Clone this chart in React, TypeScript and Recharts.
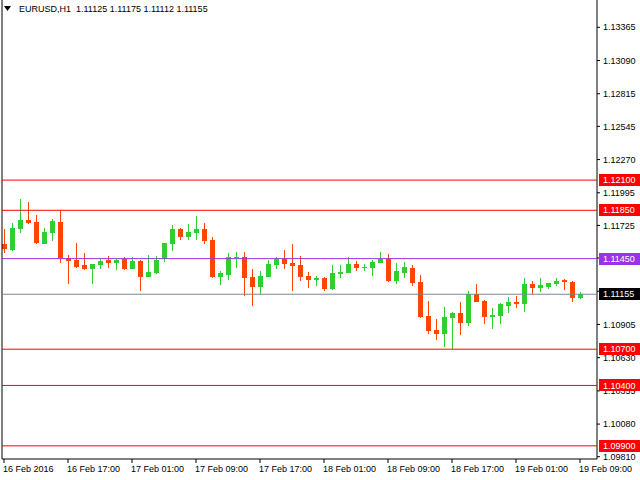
import React from 'react';
import { ComposedChart, Bar, XAxis, YAxis, ReferenceLine } from 'recharts';

const symbolName = 'EURUSD,H1';

const opens = [
  1.11567, 1.11525, 1.11694, 1.11767, 1.11750, 1.11575, 1.11658, 1.11750, 1.11458, 1.11442,
  1.11400, 1.11367, 1.11400, 1.11442, 1.11417, 1.11450, 1.11367, 1.11433, 1.11300, 1.11333,
  1.11450, 1.11575, 1.11692, 1.11633, 1.11658, 1.11692, 1.11608, 1.11300, 1.11317, 1.11458,
  1.11467, 1.11300, 1.11217, 1.11300, 1.11400, 1.11450, 1.11417, 1.11400, 1.11308, 1.11275,
  1.11292, 1.11200, 1.11325, 1.11333, 1.11408, 1.11375, 1.11375, 1.11417, 1.11450, 1.11267,
  1.11333, 1.11375, 1.11258, 1.10975, 1.10858, 1.10825, 1.10958, 1.11000, 1.10917, 1.11158,
  1.11100, 1.10967, 1.10975, 1.11058, 1.11092, 1.11075, 1.11242, 1.11208, 1.11217, 1.11242,
  1.11275, 1.11258, 1.11125,
];
const highs = [
  1.11692, 1.11742, 1.11942, 1.11917, 1.11808, 1.11700, 1.11775, 1.11842, 1.11483, 1.11583,
  1.11500, 1.11408, 1.11450, 1.11475, 1.11450, 1.11467, 1.11467, 1.11442, 1.11483, 1.11475,
  1.11583, 1.11725, 1.11700, 1.11733, 1.11800, 1.11742, 1.11633, 1.11350, 1.11500, 1.11508,
  1.11508, 1.11367, 1.11350, 1.11442, 1.11467, 1.11525, 1.11575, 1.11475, 1.11342, 1.11308,
  1.11300, 1.11400, 1.11400, 1.11467, 1.11433, 1.11408, 1.11442, 1.11508, 1.11492, 1.11417,
  1.11425, 1.11400, 1.11317, 1.11100, 1.10950, 1.11050, 1.11008, 1.11092, 1.11183, 1.11242,
  1.11105, 1.11042, 1.11083, 1.11133, 1.11142, 1.11292, 1.11267, 1.11292, 1.11250, 1.11292,
  1.11283, 1.11267, 1.11175,
];
const lows = [
  1.11500, 1.11517, 1.11658, 1.11733, 1.11567, 1.11567, 1.11592, 1.11417, 1.11242, 1.11375,
  1.11358, 1.11242, 1.11367, 1.11375, 1.11358, 1.11358, 1.11367, 1.11183, 1.11300, 1.11325,
  1.11425, 1.11517, 1.11608, 1.11608, 1.11600, 1.11567, 1.11292, 1.11233, 1.11275, 1.11375,
  1.11142, 1.11058, 1.11158, 1.11300, 1.11367, 1.11367, 1.11183, 1.11267, 1.11208, 1.11225,
  1.11183, 1.11192, 1.11292, 1.11333, 1.11350, 1.11350, 1.11308, 1.11417, 1.11260, 1.11242,
  1.11292, 1.11225, 1.10958, 1.10825, 1.10775, 1.10717, 1.10700, 1.10817, 1.10892, 1.11090,
  1.10908, 1.10867, 1.10908, 1.11000, 1.11042, 1.11008, 1.11158, 1.11175, 1.11200, 1.11225,
  1.11192, 1.11092, 1.11112,
];
const closes = [
  1.11533, 1.11700, 1.11767, 1.11742, 1.11583, 1.11667, 1.11758, 1.11458, 1.11433, 1.11383,
  1.11367, 1.11408, 1.11433, 1.11417, 1.11442, 1.11367, 1.11433, 1.11300, 1.11342, 1.11442,
  1.11583, 1.11692, 1.11633, 1.11667, 1.11692, 1.11592, 1.11300, 1.11333, 1.11467, 1.11467,
  1.11292, 1.11217, 1.11308, 1.11408, 1.11450, 1.11408, 1.11392, 1.11300, 1.11275, 1.11292,
  1.11200, 1.11333, 1.11342, 1.11408, 1.11375, 1.11383, 1.11425, 1.11450, 1.11267, 1.11350,
  1.11383, 1.11250, 1.10967, 1.10850, 1.10825, 1.10967, 1.11000, 1.10917, 1.11158, 1.11092,
  1.10967, 1.10983, 1.11075, 1.11092, 1.11075, 1.11242, 1.11208, 1.11233, 1.11250, 1.11267,
  1.11258, 1.11125, 1.11155,
];

const timeTickLabels = [
  '16 Feb 2016', '16 Feb 17:00', '17 Feb 01:00', '17 Feb 09:00', '17 Feb 17:00',
  '18 Feb 01:00', '18 Feb 09:00', '18 Feb 17:00', '19 Feb 01:00', '19 Feb 09:00',
];
const timeTickBars = [0, 8, 16, 24, 32, 40, 48, 56, 64, 72];

const priceTicks = [
  1.13365, 1.1309, 1.12815, 1.12545, 1.1227, 1.11995, 1.11725, 1.11455,
  1.1118, 1.10905, 1.1063, 1.10355, 1.1008, 1.0981,
];

const redLevels = [1.121, 1.1185, 1.107, 1.104, 1.099];
const purpleLevel = 1.1145;
const bidPrice = 1.11155;

const data = opens.map((o, i) => ({
  i,
  open: o,
  high: highs[i],
  low: lows[i],
  close: closes[i],
  range: [lows[i], highs[i]],
}));

const FONT = '"Liberation Sans", Arial, sans-serif';
const BULL = '#32CD32';
const BEAR = '#FF4500';

const Candle = (props: any) => {
  const { x, y, width, height, payload } = props;
  if (!payload || !isFinite(y)) return null;
  const { open, close, high, low } = payload;
  const cx = Math.round(x + width / 2);
  const ppu = high > low ? height / (high - low) : 0;
  const py = (v: number) => y + (high - v) * ppu;
  const up = close >= open;
  const color = up ? BULL : BEAR;
  const top = Math.round(py(Math.max(open, close)));
  const bot = Math.round(py(Math.min(open, close)));
  const wTop = Math.round(y);
  const wBot = Math.round(y + height);
  return (
    <g>
      <rect x={cx} y={wTop} width={1} height={Math.max(1, wBot - wTop)} fill={color} />
      <rect x={cx - 2} y={top} width={5} height={Math.max(1, bot - top)} fill={color} />
    </g>
  );
};

const makeTag = (value: number, bg: string) => (props: any) => {
  const vb = props.viewBox || {};
  const yy = vb.y;
  const xx = vb.x + vb.width;
  return (
    <g>
      <rect x={xx + 2} y={Math.round(yy) - 6} width={45} height={12} fill={bg} />
      <text x={xx + 6} y={yy} dy="0.35em" fill="#fff" fontSize={9} fontFamily={FONT}>
        {value.toFixed(5)}
      </text>
    </g>
  );
};

const TimeTick = (props: any) => {
  const { x, payload } = props;
  const idx = timeTickBars.indexOf(payload.value);
  return (
    <text x={x - 1} y={472} textAnchor="start" fill="#000" fontSize={9} fontFamily={FONT}>
      {idx >= 0 ? timeTickLabels[idx] : ''}
    </text>
  );
};

export default function App() {
  return (
    <div style={{ position: 'absolute', left: 0, top: 0, width: 640, height: 480, background: '#fff' }}>
      <ComposedChart
        width={640}
        height={480}
        data={data}
        margin={{ top: 0, right: 0, bottom: 0, left: 2 }}
      >
        <XAxis
          dataKey="i"
          type="number"
          domain={[-0.25, 74.125]}
          allowDataOverflow
          ticks={timeTickBars}
          interval={0}
          height={21}
          tickSize={4}
          axisLine={{ stroke: '#000' }}
          tickLine={{ stroke: '#000' }}
          tick={<TimeTick />}
        />
        <YAxis
          orientation="right"
          type="number"
          domain={[1.09791, 1.13591]}
          allowDataOverflow
          ticks={priceTicks}
          interval={0}
          width={43}
          tickSize={3}
          tickMargin={3}
          axisLine={{ stroke: '#000' }}
          tickLine={{ stroke: '#000' }}
          tick={{ fill: '#000', fontSize: 9, fontFamily: FONT }}
          tickFormatter={(v: number) => v.toFixed(5)}
          zIndex={100}
        />
        <ReferenceLine x={-0.25} stroke="#000" />
        <Bar dataKey="range" barSize={5} shape={<Candle />} isAnimationActive={false} />
        {redLevels.map((lv) => (
          <ReferenceLine key={lv} y={lv} stroke="#FF0000" zIndex={3000} label={makeTag(lv, '#FF0000')} />
        ))}
        <ReferenceLine y={purpleLevel} stroke="#9A32E6" zIndex={3000} label={makeTag(purpleLevel, '#9A32E6')} />
        <ReferenceLine y={bidPrice} stroke="#778899" zIndex={3000} label={makeTag(bidPrice, '#000000')} />
      </ComposedChart>
      <div
        style={{
          position: 'absolute',
          left: 4,
          top: 3,
          display: 'flex',
          alignItems: 'center',
          fontFamily: FONT,
          fontSize: 9,
          color: '#000',
          whiteSpace: 'pre',
          lineHeight: '12px',
        }}
      >
        <svg width={8} height={6} style={{ marginRight: 7 }}>
          <polygon points="0,0 7,0 3.5,5" fill="#000" />
        </svg>
        <span>{`${symbolName}  ${opens[72].toFixed(5)} ${highs[72].toFixed(5)} ${lows[72].toFixed(5)} ${closes[72].toFixed(5)}`}</span>
      </div>
    </div>
  );
}
